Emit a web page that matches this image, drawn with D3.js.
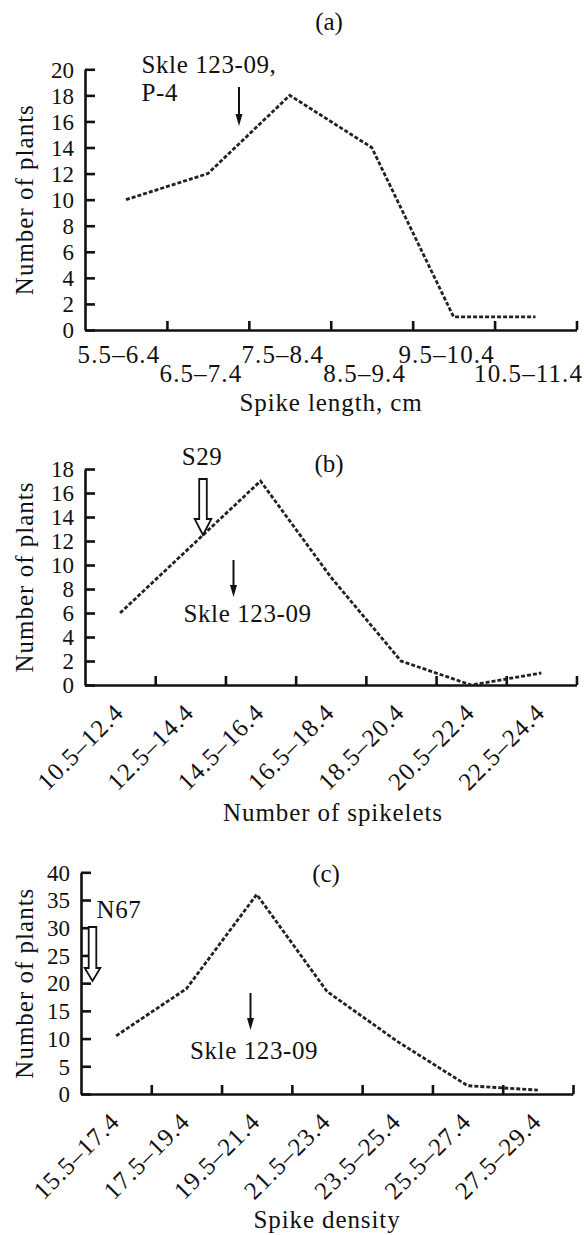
<!DOCTYPE html>
<html>
<head>
<meta charset="utf-8">
<script src="https://cdn.jsdelivr.net/npm/d3@7"></script>
<style>
  body { margin: 0; background: #fff; }
  svg { display: block; }
  svg text { font-family: "Liberation Serif", "Times New Roman", Times, serif; fill: #111; }
  .domain, .tick line { stroke: #111; stroke-width: 2.6; }
  .series { fill: none; stroke: #222; stroke-width: 2.8; stroke-dasharray: 4,2; }
</style>
</head>
<body>
<svg id="chart"></svg>
<script>
  //begin: data
  var lengthBins = ["5.5–6.4", "6.5–7.4", "7.5–8.4", "8.5–9.4", "9.5–10.4", "10.5–11.4"];
  var lengthCounts = [10, 12, 18, 14, 1, 1];
  var lengthTicks = [0, 2, 4, 6, 8, 10, 12, 14, 16, 18, 20];

  var spikeletBins = ["10.5–12.4", "12.5–14.4", "14.5–16.4", "16.5–18.4", "18.5–20.4", "20.5–22.4", "22.5–24.4"];
  var spikeletCounts = [6, 11.5, 17, 9, 2, 0, 1];
  var spikeletTicks = [0, 2, 4, 6, 8, 10, 12, 14, 16, 18];

  var densityBins = ["15.5–17.4", "17.5–19.4", "19.5–21.4", "21.5–23.4", "23.5–25.4", "25.5–27.4", "27.5–29.4"];
  var densityCounts = [10.5, 19, 36, 18.5, 9.5, 1.5, 0.7];
  var densityTicks = [0, 5, 10, 15, 20, 25, 30, 35, 40];
  //end: data

  //begin: layout conf.
  var svgWidth = 584, svgHeight = 1235;
  var panels = [
    { letter: "(a)", bins: lengthBins, counts: lengthCounts, ticks: lengthTicks,
      left: 85, right: 576.5, top: 69.3, bottom: 330, letterPos: [329, 30],
      title: "Spike length, cm", titlePos: [331, 411], rotated: false,
      thin: { x: 239, y0: 87, y1: 126 },
      notes: [{ text: "Skle 123-09,", x: 141.5, y: 73 }, { text: "P-4", x: 141.5, y: 101 }] },
    { letter: "(b)", bins: spikeletBins, counts: spikeletCounts, ticks: spikeletTicks,
      left: 85, right: 576.5, top: 469, bottom: 685, letterPos: [329, 472],
      title: "Number of spikelets", titlePos: [333, 821], rotated: true,
      thin: { x: 233.5, y0: 560, y1: 597 },
      hollow: { x: 203, y0: 479, y1: 519, tip: 535, w: 3.8, hw: 8.3 },
      notes: [{ text: "S29", x: 202, y: 465, anchor: "middle" }, { text: "Skle 123-09", x: 183.5, y: 622 }] },
    { letter: "(c)", bins: densityBins, counts: densityCounts, ticks: densityTicks,
      left: 81, right: 573, top: 872.3, bottom: 1094, letterPos: [326, 882],
      title: "Spike density", titlePos: [327, 1228], rotated: true,
      thin: { x: 250.5, y0: 993, y1: 1030 },
      hollow: { x: 92.5, y0: 927, y1: 968, tip: 981, w: 3.8, hw: 7.8 },
      notes: [{ text: "N67", x: 96.5, y: 918 }, { text: "Skle 123-09", x: 190, y: 1059 }] }
  ];
  //end: layout conf.

  var svg = d3.select("#chart")
    .attr("width", svgWidth)
    .attr("height", svgHeight);

  panels.forEach(drawPanel);

  function drawPanel(p) {
    var g = svg.append("g");
    var yMax = d3.max(p.ticks);

    var x = d3.scaleBand().domain(p.bins).range([p.left, p.right]);
    var xEdge = d3.scaleLinear().domain([0, p.bins.length]).range([p.left, p.right]);
    var y = d3.scaleLinear().domain([0, yMax]).range([p.bottom, p.top]);

    // y axis, ticks pointing inward
    var yAxis = g.append("g")
      .attr("transform", "translate(" + [p.left, 0] + ")")
      .call(d3.axisLeft(y).tickValues(p.ticks).tickSizeInner(-10).tickSizeOuter(0).tickPadding(11));
    yAxis.selectAll("text").style("font-size", "23px").attr("dy", "0.34em");

    // x axis: ticks on the bin edges
    g.append("g")
      .attr("transform", "translate(" + [0, p.bottom] + ")")
      .call(d3.axisBottom(xEdge).tickValues(d3.range(1, p.bins.length + 1)).tickSizeInner(-9).tickSizeOuter(0).tickFormat(""));

    // x bin labels
    var labels = g.append("g")
      .attr("transform", "translate(" + [0, p.bottom] + ")")
      .call(d3.axisBottom(x).tickSize(0));
    labels.select(".domain").remove();
    labels.selectAll("text")
      .style("font-size", "25px")
      .style("letter-spacing", "1.1px");
    if (p.rotated) {
      labels.selectAll("text")
        .attr("text-anchor", "end")
        .attr("y", 0).attr("dy", 0)
        .attr("transform", "translate(5,29) rotate(-45)");
    } else {
      labels.selectAll("text")
        .attr("dy", 0)
        .attr("x", -7)
        .attr("y", function(d, i) { return i % 2 ? 52 : 33; });
    }

    // series
    var line = d3.line()
      .x(function(d, i) { return x(p.bins[i]) + x.bandwidth() / 2; })
      .y(function(d) { return y(d); });
    g.append("path")
      .datum(p.counts)
      .attr("class", "series")
      .attr("d", line);

    // titles
    g.append("text")
      .attr("transform", "translate(" + [33, (p.top + p.bottom) / 2] + ") rotate(-90)")
      .attr("text-anchor", "middle")
      .style("font-size", "25px")
      .style("letter-spacing", "1px")
      .text("Number of plants");
    g.append("text")
      .attr("x", p.titlePos[0])
      .attr("y", p.titlePos[1])
      .attr("text-anchor", "middle")
      .style("font-size", "25px")
      .style("letter-spacing", "0.9px")
      .text(p.title);
    g.append("text")
      .attr("x", p.letterPos[0]).attr("y", p.letterPos[1])
      .attr("text-anchor", "middle")
      .style("font-size", "25px")
      .text(p.letter);

    // annotations
    p.notes.forEach(function(n) {
      g.append("text")
        .attr("x", n.x).attr("y", n.y)
        .attr("text-anchor", n.anchor || "start")
        .style("font-size", "25px")
        .style("letter-spacing", "0.6px")
        .text(n.text);
    });

    var t = p.thin;
    g.append("line")
      .attr("x1", t.x).attr("x2", t.x)
      .attr("y1", t.y0).attr("y2", t.y1 - 8)
      .attr("stroke", "#111").attr("stroke-width", 2);
    g.append("path")
      .attr("d", "M" + [t.x - 3.5, t.y1 - 12] + "L" + [t.x + 3.5, t.y1 - 12] + "L" + [t.x, t.y1] + "Z")
      .attr("fill", "#111");

    if (p.hollow) {
      var h = p.hollow;
      var pts = [[h.x - h.w, h.y0], [h.x + h.w, h.y0], [h.x + h.w, h.y1], [h.x + h.hw, h.y1],
                 [h.x, h.tip], [h.x - h.hw, h.y1], [h.x - h.w, h.y1]];
      g.append("path")
        .attr("d", "M" + pts.join("L") + "Z")
        .attr("fill", "#fff")
        .attr("stroke", "#111")
        .attr("stroke-width", 1.8);
    }
  }
</script>
</body>
</html>
